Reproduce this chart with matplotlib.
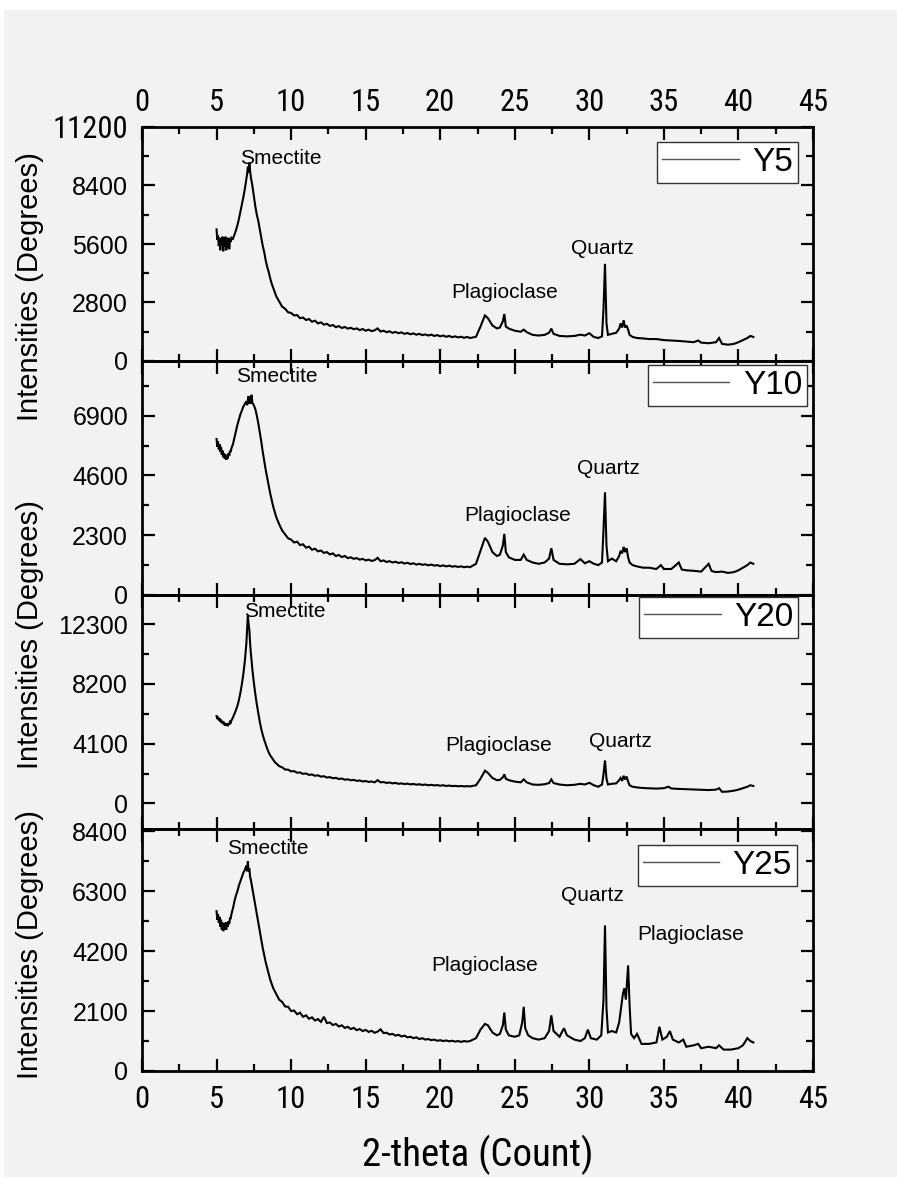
import os
import matplotlib
matplotlib.use("Agg")
import matplotlib.pyplot as plt
import matplotlib.font_manager as fm
from matplotlib.font_manager import FontProperties
from matplotlib.ticker import MultipleLocator
from matplotlib.lines import Line2D
from matplotlib.patches import Rectangle

# ---------------- data: XRD patterns (2-theta in degrees vs counts) ----------------
# low-angle part (smectite 001 reflection)
two_theta_head = [5.00, 5.05, 5.10, 5.15, 5.20, 5.25, 5.30, 5.35, 5.40, 5.45, 5.50, 5.55, 5.60, 5.65, 5.70,
                  5.75, 5.80, 5.85, 5.90, 5.95, 6.00, 6.10, 6.20, 6.30, 6.40, 6.50, 6.60, 6.70, 6.80, 6.90,
                  7.00, 7.05, 7.10, 7.15, 7.20, 7.25, 7.30, 7.35, 7.40, 7.50, 7.60, 7.70, 7.80, 7.90, 8.00,
                  8.10, 8.20, 8.30, 8.40, 8.50, 8.60, 8.70, 8.80, 8.90]
# background slope between the smectite peak and the plagioclase region
two_theta_tail = [9.0, 9.2, 9.4, 9.6, 9.8, 10.0, 10.2, 10.4, 10.6, 10.8, 11.0, 11.2, 11.4, 11.6, 11.8,
                  12.0, 12.2, 12.4, 12.6, 12.8, 13.0, 13.2, 13.4, 13.6, 13.8, 14.0, 14.2, 14.4, 14.6, 14.8,
                  15.0, 15.2, 15.4, 15.6, 15.8, 16.0, 16.2, 16.4, 16.6, 16.8, 17.0, 17.2, 17.4, 17.6, 17.8,
                  18.0, 18.2, 18.4, 18.6, 18.8, 19.0, 19.2, 19.4, 19.6, 19.8, 20.0, 20.2, 20.4, 20.6, 20.8,
                  21.0, 21.2, 21.4, 21.6, 21.8, 22.0]

counts_y5_head = [6300, 5800, 6000, 5500, 5900, 5300, 5850, 5600, 5950, 5250, 5800, 5500, 5950, 5300, 5750,
                  5450, 5900, 5350, 5800, 5700, 5900, 5850, 6050, 6250, 6500, 6800, 7150, 7500, 7850, 8250,
                  8700, 8950, 9300, 9000, 9500, 9100, 8800, 8600, 8400, 7900, 7400, 7000, 6700, 6300, 5900,
                  5500, 5200, 4800, 4500, 4250, 3950, 3700, 3500, 3300]
counts_y5_tail = [3100, 2850, 2600, 2500, 2330, 2300, 2180, 2200, 2050, 2080, 1960, 2010, 1880, 1930, 1800,
                  1850, 1740, 1780, 1680, 1720, 1620, 1670, 1580, 1630, 1550, 1590, 1520, 1560, 1480, 1530,
                  1450, 1500, 1430, 1470, 1560, 1410, 1450, 1380, 1420, 1350, 1390, 1330, 1370, 1300, 1340,
                  1280, 1320, 1260, 1300, 1240, 1270, 1220, 1260, 1200, 1240, 1180, 1220, 1160, 1200, 1140,
                  1180, 1130, 1160, 1110, 1150, 1100]
two_theta_y5_peaks = [22.4, 22.7, 23.0, 23.2, 23.5, 23.8, 24.0, 24.2, 24.3, 24.4, 24.6, 25.0, 25.4, 25.6, 25.8,
                      26.2, 26.6, 27.0, 27.3, 27.45, 27.6, 28.0, 28.5, 29.0, 29.4, 29.7, 30.0, 30.3, 30.6,
                      30.85, 30.95, 31.05, 31.15, 31.25, 31.5, 31.8, 32.0, 32.1, 32.2, 32.3, 32.4, 32.5, 32.6,
                      32.7, 32.9, 33.2, 33.6, 34.0, 34.5, 35.0, 35.5, 36.0, 36.5, 37.0, 37.3, 37.5, 38.0, 38.5,
                      38.7, 38.9, 39.3, 39.7, 40.0, 40.3, 40.6, 40.8, 41.0]
counts_y5_peaks = [1160, 1650, 2180, 2050, 1700, 1560, 1600, 1900, 2250, 1650, 1550, 1450, 1400, 1500, 1380,
                   1250, 1220, 1250, 1350, 1550, 1300, 1200, 1180, 1200, 1260, 1220, 1330, 1150, 1100,
                   1180, 2500, 4650, 1800, 1250, 1300, 1350, 1550, 1800, 1600, 1950, 1600, 1700, 1500,
                   1250, 1150, 1100, 1080, 1050, 1050, 1000, 980, 960, 930, 900, 980, 880, 850, 900,
                   1100, 820, 780, 820, 900, 1000, 1100, 1200, 1150]

counts_y10_head = [6000, 5700, 5900, 5600, 5800, 5500, 5700, 5400, 5550, 5300, 5450, 5250, 5400, 5200, 5350,
                   5250, 5450, 5350, 5550, 5500, 5650, 5800, 6050, 6300, 6550, 6750, 6950, 7100, 7250, 7350,
                   7450, 7300, 7500, 7650, 7350, 7600, 7350, 7700, 7400, 7300, 7150, 6900, 6600, 6250, 5900,
                   5500, 5150, 4800, 4500, 4200, 3900, 3650, 3400, 3200]
counts_y10_tail = [3000, 2720, 2480, 2330, 2180, 2130, 2020, 2050, 1920, 1950, 1820, 1860, 1740, 1780, 1680,
                   1710, 1620, 1650, 1560, 1600, 1500, 1540, 1460, 1500, 1420, 1450, 1390, 1420, 1360, 1390,
                   1330, 1360, 1310, 1340, 1430, 1300, 1330, 1270, 1300, 1250, 1280, 1230, 1260, 1210, 1240,
                   1190, 1220, 1170, 1200, 1160, 1180, 1140, 1170, 1130, 1150, 1110, 1140, 1100, 1130, 1090,
                   1110, 1080, 1100, 1070, 1090, 1070]
two_theta_y10_peaks = [22.4, 22.7, 23.0, 23.2, 23.5, 23.8, 24.0, 24.2, 24.3, 24.4, 24.6, 25.0, 25.4, 25.6, 25.8,
                       26.2, 26.6, 27.0, 27.3, 27.45, 27.6, 28.0, 28.5, 29.0, 29.4, 29.7, 30.0, 30.3, 30.6,
                       30.85, 30.95, 31.05, 31.15, 31.25, 31.5, 31.8, 32.0, 32.1, 32.2, 32.3, 32.4, 32.5, 32.6,
                       32.7, 32.9, 33.2, 33.6, 34.0, 34.5, 34.8, 35.0, 35.5, 36.0, 36.2, 36.5, 37.0, 37.5, 38.0,
                       38.2, 38.5, 38.9, 39.3, 39.7, 40.0, 40.3, 40.6, 40.8, 41.0]
counts_y10_peaks = [1200, 1700, 2200, 2050, 1650, 1500, 1550, 1900, 2350, 1650, 1450, 1350, 1350, 1550, 1350,
                    1250, 1200, 1250, 1400, 1800, 1350, 1200, 1180, 1200, 1380, 1220, 1300, 1200, 1150,
                    1250, 2500, 3950, 1900, 1300, 1400, 1300, 1500, 1700, 1600, 1850, 1650, 1800, 1450,
                    1250, 1150, 1100, 1050, 1050, 1000, 1150, 1000, 1000, 1250, 980, 950, 930, 900, 1200,
                    920, 880, 900, 850, 880, 950, 1050, 1150, 1250, 1200]

counts_y20_head = [6000, 5800, 5950, 5700, 5850, 5600, 5750, 5500, 5650, 5450, 5600, 5350, 5500, 5350, 5450,
                   5300, 5500, 5400, 5600, 5550, 5700, 5900, 6150, 6400, 6700, 7100, 7600, 8200, 8900, 9800,
                   11000, 12000, 12900, 12300, 11900, 11000, 10300, 9800, 9200, 8300, 7500, 6800, 6200, 5600,
                   5100, 4700, 4350, 4050, 3750, 3500, 3300, 3150, 3000, 2850]
counts_y20_tail = [2750, 2560, 2480, 2330, 2320, 2200, 2220, 2110, 2130, 2030, 2060, 1960, 1990, 1900, 1930,
                   1840, 1870, 1780, 1810, 1730, 1760, 1680, 1710, 1630, 1660, 1590, 1620, 1550, 1580, 1510,
                   1540, 1480, 1510, 1450, 1600, 1450, 1470, 1410, 1440, 1380, 1410, 1350, 1380, 1330, 1360,
                   1310, 1340, 1290, 1320, 1270, 1300, 1250, 1280, 1240, 1260, 1220, 1250, 1200, 1230, 1190,
                   1210, 1180, 1200, 1170, 1190, 1170]
two_theta_y20_peaks = [22.4, 22.7, 23.0, 23.2, 23.5, 23.8, 24.0, 24.2, 24.3, 24.4, 24.6, 25.0, 25.4, 25.6, 25.8,
                       26.2, 26.6, 27.0, 27.3, 27.45, 27.6, 28.0, 28.5, 29.0, 29.4, 29.7, 30.0, 30.3, 30.6,
                       30.85, 30.95, 31.05, 31.15, 31.25, 31.5, 31.8, 32.0, 32.1, 32.2, 32.3, 32.4, 32.5, 32.6,
                       32.7, 32.9, 33.2, 33.6, 34.0, 34.5, 35.0, 35.3, 35.5, 36.0, 36.5, 37.0, 37.5, 38.0, 38.5,
                       38.7, 38.9, 39.3, 39.7, 40.0, 40.3, 40.6, 40.8, 41.0]
counts_y20_peaks = [1250, 1700, 2250, 2100, 1750, 1600, 1620, 1800, 2000, 1700, 1600, 1500, 1450, 1650, 1450,
                    1300, 1280, 1320, 1400, 1650, 1400, 1300, 1250, 1280, 1350, 1300, 1420, 1250, 1150,
                    1300, 2000, 2950, 1700, 1300, 1350, 1380, 1600, 1750, 1550, 1900, 1650, 1850, 1500,
                    1250, 1150, 1100, 1060, 1040, 1020, 1050, 1150, 1030, 1000, 980, 960, 940, 920, 950,
                    1050, 800, 820, 880, 950, 1050, 1150, 1250, 1200]

counts_y25_head = [5600, 5300, 5500, 5200, 5400, 5050, 5300, 4950, 5200, 4900, 5150, 4950, 5200, 4950, 5200,
                   5050, 5250, 5150, 5350, 5350, 5500, 5700, 5950, 6150, 6300, 6500, 6650, 6800, 6950, 7050,
                   7200, 7000, 7350, 7000, 7100, 6800, 6700, 6550, 6400, 6100, 5800, 5500, 5200, 4900, 4600,
                   4300, 4050, 3800, 3600, 3400, 3200, 3050, 2900, 2800]
counts_y25_tail = [2700, 2500, 2420, 2260, 2250, 2100, 2120, 1990, 2040, 1900, 1950, 1830, 1880, 1770, 1820,
                   1720, 1900, 1680, 1700, 1610, 1650, 1560, 1600, 1510, 1550, 1470, 1510, 1430, 1470, 1400,
                   1440, 1370, 1410, 1340, 1380, 1460, 1330, 1340, 1280, 1300, 1240, 1270, 1210, 1240, 1180,
                   1200, 1150, 1180, 1120, 1150, 1100, 1120, 1080, 1100, 1060, 1080, 1050, 1070, 1040, 1060,
                   1030, 1050, 1020, 1050, 1030, 1050]
two_theta_y25_peaks = [22.4, 22.7, 23.0, 23.2, 23.5, 23.8, 24.0, 24.2, 24.3, 24.4, 24.6, 25.0, 25.3, 25.5, 25.6,
                       25.7, 25.9, 26.2, 26.6, 27.0, 27.3, 27.45, 27.6, 28.0, 28.3, 28.5, 29.0, 29.4, 29.7,
                       29.9, 30.1, 30.5, 30.8, 30.95, 31.05, 31.15, 31.25, 31.5, 31.8, 32.0, 32.1, 32.25, 32.35,
                       32.45, 32.6, 32.7, 32.8, 33.0, 33.2, 33.5, 34.0, 34.5, 34.7, 34.9, 35.2, 35.4, 35.6, 36.0,
                       36.3, 36.5, 37.0, 37.3, 37.5, 38.0, 38.5, 38.7, 39.0, 39.5, 40.0, 40.3, 40.6, 40.8, 41.0]
counts_y25_peaks = [1150, 1450, 1650, 1600, 1350, 1250, 1300, 1600, 2050, 1450, 1250, 1200, 1250, 1700, 2250,
                    1500, 1250, 1150, 1100, 1150, 1400, 1950, 1400, 1200, 1500, 1250, 1100, 1050, 1150,
                    1450, 1150, 1100, 1250, 2500, 5100, 2200, 1350, 1400, 1350, 1700, 2100, 2700, 2900,
                    2500, 3700, 2300, 1300, 1150, 1300, 950, 950, 1000, 1550, 1100, 1200, 1400, 1100, 1000,
                    1100, 850, 900, 950, 800, 850, 800, 900, 750, 750, 800, 900, 1150, 1050, 1000]

sample_names = ["Y5", "Y10", "Y20", "Y25"]
x_ticks = [0, 5, 10, 15, 20, 25, 30, 35, 40, 45]

# ---------------- fonts ----------------
available = {f.name for f in fm.fontManager.ttflist}
SANS = "Liberation Sans" if "Liberation Sans" in available else "DejaVu Sans"


def narrow_font_file():
    for f in fm.fontManager.ttflist:
        if f.name == "Liberation Sans Narrow" and f.style == "normal" and f.weight in (400, "normal"):
            return f.fname
    files = fm.findSystemFonts()
    for key in ["LiberationSansNarrow-Regular", "ArialNarrow", "RobotoCondensed-Regular",
                "DejaVuSansCondensed.ttf", "NotoSans-Condensed.ttf", "NotoSansDisplay-Condensed",
                "OpenSans-CondensedRegular", "OpenSans_Condensed-Regular"]:
        for path in files:
            if key.lower() in os.path.basename(path).lower():
                return path
    return None


narrow_path = narrow_font_file()


def narrow(size):
    if narrow_path:
        return FontProperties(fname=narrow_path, size=size)
    return FontProperties(family=SANS, size=size * 0.85)


BG = "#f2f2f2"
W, H = 897, 1178
fig = plt.figure(figsize=(W / 100, H / 100), dpi=100, facecolor="white")
fig.patches.append(Rectangle((4 / W, 1 - 1177 / H), (W - 4) / W, (1177 - 10) / H,
                             transform=fig.transFigure, facecolor=BG, edgecolor="none", zorder=-10))

# panel pixel extents (top, bottom)
rows = [(127, 361), (361, 595), (595, 829), (829, 1071)]
x_left, x_right = 142, 813

series = [
    (two_theta_head + two_theta_tail + two_theta_y5_peaks, counts_y5_head + counts_y5_tail + counts_y5_peaks),
    (two_theta_head + two_theta_tail + two_theta_y10_peaks, counts_y10_head + counts_y10_tail + counts_y10_peaks),
    (two_theta_head + two_theta_tail + two_theta_y20_peaks, counts_y20_head + counts_y20_tail + counts_y20_peaks),
    (two_theta_head + two_theta_tail + two_theta_y25_peaks, counts_y25_head + counts_y25_tail + counts_y25_peaks),
]
ylims = [(0, 11200), (0, 9000), (-1750, 14300), (0, 8480)]
ysteps = [2800, 2300, 4100, 2100]
legend_anchor = [(0.978, 0.936), (0.991, 0.983), (0.978, 0.991), (0.976, 0.934)]

# mineral labels: (text, 2-theta, counts)
labels = [
    [("Smectite", 9.3, 9700), ("Plagioclase", 24.3, 3300), ("Quartz", 30.9, 5400)],
    [("Smectite", 9.05, 8400), ("Plagioclase", 25.2, 3050), ("Quartz", 31.25, 4850)],
    [("Smectite", 9.6, 13200), ("Plagioclase", 23.9, 3950), ("Quartz", 32.1, 4250)],
    [("Smectite", 8.45, 7800), ("Plagioclase", 23.0, 3700), ("Quartz", 30.2, 6150),
     ("Plagioclase", 36.8, 4800)],
]

axes = []
for i, ((top, bot), (tt, cc)) in enumerate(zip(rows, series)):
    ax = fig.add_axes([x_left / W, 1 - bot / H, (x_right - x_left) / W, (bot - top) / H])
    ax.patch.set_alpha(0)
    ax.plot(tt, cc, color="black", lw=1.5, solid_joinstyle="miter")
    ax.set_xlim(0, 45)
    ax.set_ylim(*ylims[i])
    ax.xaxis.set_major_locator(MultipleLocator(5))
    ax.xaxis.set_minor_locator(MultipleLocator(2.5))
    ax.yaxis.set_major_locator(MultipleLocator(ysteps[i]))
    ax.yaxis.set_minor_locator(MultipleLocator(ysteps[i] / 2))
    ax.tick_params(which="both", direction="in", top=True, right=True, bottom=True, left=True,
                   labeltop=(i == 0), labelbottom=(i == 3), width=1.6)
    ax.tick_params(which="major", length=9, pad=10)
    ax.tick_params(axis="x", which="major", pad=(7 if i == 0 else 10))
    ax.tick_params(which="minor", length=5)
    for s in ax.spines.values():
        s.set_linewidth(2.0)
    ax.set_xticks(x_ticks)
    for lab in ax.get_yticklabels():
        lab.set_fontfamily(SANS)
        lab.set_fontsize(18)
    for lab in ax.get_xticklabels():
        lab.set_fontproperties(narrow(22))
    for text, xx, yy in labels[i]:
        ax.text(xx, yy, text, ha="center", va="center", fontsize=15, family=SANS)
    h = Line2D([], [], color="#555555", lw=1.0)
    ax.legend([h], [sample_names[i]], loc="upper right", bbox_to_anchor=legend_anchor[i],
              borderaxespad=0, fancybox=False, framealpha=1, facecolor="white", edgecolor="#333333",
              prop={"family": SANS, "size": 24}, handlelength=2.3, handletextpad=0.4, borderpad=0.15)
    axes.append(ax)

fig.canvas.draw()
# the topmost tick value is set in the narrow face
for lab in axes[0].get_yticklabels():
    if lab.get_text() == "11200":
        lab.set_fontproperties(narrow(22))

# y-axis titles
for yc in [287, 635, 945]:
    fig.text(30 / W, 1 - yc / H, "Intensities (Degrees)", rotation=90, ha="center", va="center",
             fontsize=21, family=SANS)

fig.text((x_left + x_right) / 2 / W, 1 - 1155 / H, "2-theta (Count)", ha="center", va="center",
         fontproperties=narrow(28))

fig.savefig("out.png", dpi=100, facecolor=fig.get_facecolor())
